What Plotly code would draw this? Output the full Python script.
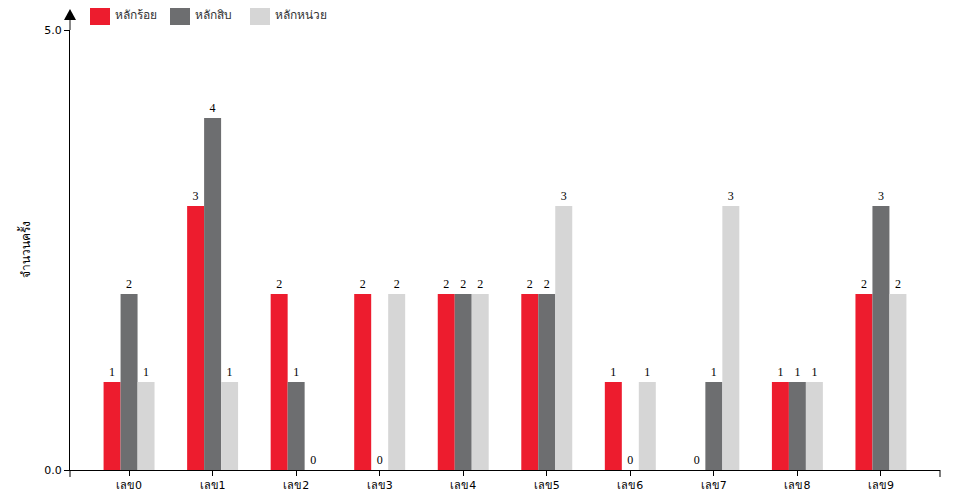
import plotly.graph_objects as go

categories = ["เลข0", "เลข1", "เลข2", "เลข3", "เลข4", "เลข5", "เลข6", "เลข7", "เลข8", "เลข9"]
series_names = ["หลักร้อย", "หลักสิบ", "หลักหน่วย"]
hundreds = [1, 3, 2, 2, 2, 2, 1, 0, 1, 2]
tens = [2, 4, 1, 0, 2, 2, 0, 1, 1, 3]
units = [1, 1, 0, 2, 2, 3, 1, 3, 1, 2]
colors = ["#ED1C2E", "#6D6E70", "#D6D6D6"]
y_title = "จำนวนครั้ง"

# page has an 8px body margin; figure drawn at offset (8, 8)
OFF = 8
W, H = 960 - OFF, 500 - OFF
ML, MR, MT, MB = 70 - OFF, 20, 30 - OFF, 30
PW, PH = W - ML - MR, H - MT - MB

def px(x):
    return (x - 70) / PW

def py(y):
    return (470 - y) / PH

serif = "Liberation Serif"
xs = list(range(len(categories)))
fig = go.Figure()
for name, vals, col in zip(series_names, [hundreds, tens, units], colors):
    fig.add_trace(go.Bar(
        x=xs, y=vals, name=name, marker=dict(color=col, line=dict(width=0)),
        text=[str(v) for v in vals], textposition="outside", cliponaxis=False,
        textfont=dict(family=serif, size=12, color="#000000"),
        outsidetextfont=dict(family=serif, size=12, color="#000000"),
        showlegend=False,
    ))

shapes = []
annotations = []
# custom legend
for i, (name, col) in enumerate(zip(series_names, colors)):
    x0 = 90 + 80 * i
    shapes.append(dict(type="rect", xref="paper", yref="paper",
                       x0=px(x0), x1=px(x0 + 20), y0=py(25), y1=py(5),
                       fillcolor=col, line=dict(width=0)))
    annotations.append(dict(xref="paper", yref="paper", x=px(x0 + 23), y=py(15),
                            text=name, showarrow=False, xanchor="left", yanchor="middle",
                            font=dict(size=12, color="#333")))
# y axis extension and arrow
shapes.append(dict(type="line", xref="paper", yref="paper", x0=0, x1=0,
                   y0=1, y1=py(18), line=dict(color="#888", width=2)))
shapes.append(dict(type="path", xref="paper", yref="paper",
                   path=f"M {px(64)} {py(20)} L {px(76)} {py(20)} L {px(70)} {py(9)} Z",
                   fillcolor="#000", line=dict(width=0)))
# x axis end ticks
for xe in [0, 1]:
    shapes.append(dict(type="line", xref="paper", yref="paper", x0=xe, x1=xe,
                       y0=0, y1=py(477), line=dict(color="#000", width=1)))

annotations.append(dict(xref="paper", yref="paper", x=px(25), y=py(250), text=y_title,
                        textangle=-90, showarrow=False, xanchor="center", yanchor="middle",
                        font=dict(size=12, color="#000")))

fig.update_layout(
    width=W, height=H, margin=dict(l=ML, r=MR, t=MT, b=MB, pad=0, autoexpand=False),
    paper_bgcolor="white", plot_bgcolor="white",
    barmode="group", bargap=0.39, bargroupgap=0,
    shapes=shapes, annotations=annotations,
    font=dict(family="DejaVu Sans, sans-serif", size=11, color="#000"),
    xaxis=dict(range=[-0.707, 9.707], tickvals=xs, ticktext=categories,
               showline=True, linecolor="#000", linewidth=1, automargin=False,
               ticks="outside", ticklen=5, tickcolor="#000",
               showgrid=False, zeroline=False, tickfont=dict(size=11)),
    yaxis=dict(range=[0, 5], tickvals=[0, 5], ticktext=["0.0", "5.0"],
               showline=True, linecolor="#000", linewidth=1, automargin=False,
               ticks="outside", ticklen=5, tickcolor="#000",
               showgrid=True, gridcolor="#d0d0d0", gridwidth=1,
               zeroline=False, tickfont=dict(size=11)),
)

fig.write_html("out.html")
